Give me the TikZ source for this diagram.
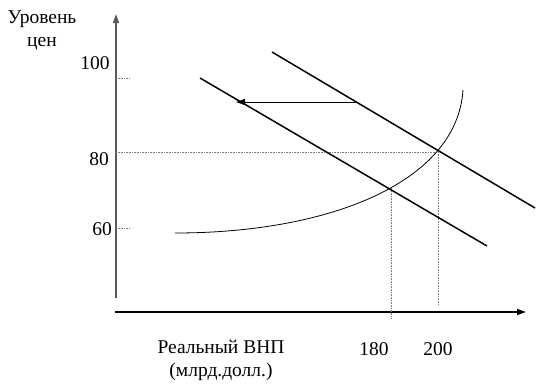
\documentclass[tikz,border=0pt]{standalone}
\usepackage{fontspec}
\setmainfont{Liberation Serif}
\usetikzlibrary{arrows.meta}
\begin{document}
\begin{tikzpicture}[x=1pt,y=-1pt,
  axis/.style={line width=1.4pt,-{Triangle[length=9pt,width=6pt]}},
  adline/.style={line width=1.5pt,black},
  guide/.style={gray,line width=1pt,dash pattern=on 0.8pt off 0.8pt},
  lbl/.style={font=\fontsize{19.5}{23}\selectfont,inner sep=0pt}]
\useasboundingbox (0,0) rectangle (538,391);
% axes
\coordinate (yb) at (116,298);
\coordinate (yt) at (116,14);
\coordinate (xl) at (115,312);
\coordinate (xr) at (526,312);
\draw[axis,draw=black!65] (yb) -- (yt);
\draw[axis] (xl) -- (xr);
% labels
\node[lbl,align=center] (ylab) at (42,30) {Уровень\\цен};
\node[lbl] (l100) at (95,63) {100};
\node[lbl] (l80) at (99,159) {80};
\node[lbl] (l60) at (102,229) {60};
\node[lbl,align=center] (xlab) at (221,360) {Реальный ВНП\\(млрд.долл.)};
\node[lbl] (l180) at (374,349) {180};
\node[lbl] (l200) at (438,349) {200};
% intersection points
\coordinate (e1) at (438,152);
\coordinate (e2) at (391,188);
% guides
\coordinate (t100) at (116,78);
\coordinate (t100e) at (129,78);
\coordinate (t60) at (116,228);
\coordinate (t60e) at (129,228);
\coordinate (t80) at (116,152);
\coordinate (b180) at (391,319);
\coordinate (b200) at (438,305);
\draw[guide] (t100) -- (t100e);
\draw[guide] (t60) -- (t60e);
\draw[guide] (t80) -- (e1);
\draw[guide] (e2) -- (b180);
\draw[guide] (e1) -- (b200);
% AD lines
\coordinate (a1s) at (272,52);
\coordinate (a1e) at (535,208);
\coordinate (a2s) at (200,78);
\coordinate (a2e) at (487,246);
\draw[adline] (a1s) -- (a1e);
\draw[adline] (a2s) -- (a2e);
% AS curve
\coordinate (cs) at (175,233);
\coordinate (ce) at (463,90);
\draw[line width=0.8pt] (cs) .. controls (330,233) and (457,182) .. (ce);
% shift arrow
\coordinate (arS) at (357,102);
\coordinate (arE) at (236,102);
\draw[line width=1pt,-{Triangle[length=9pt,width=6pt]}] (arS) -- (arE);
\end{tikzpicture}
\end{document}
